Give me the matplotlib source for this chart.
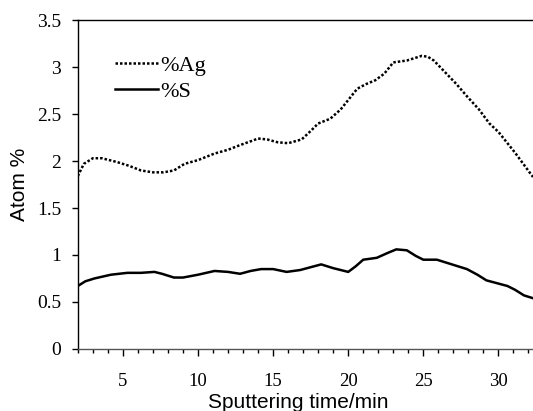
import matplotlib
matplotlib.use("Agg")
import matplotlib.pyplot as plt
from matplotlib.ticker import MultipleLocator

# sputtering time (min)
time_ag = [2.0, 2.4, 3.0, 3.6, 4.6, 5.4, 6.2, 7.0, 7.7, 8.4, 9.1, 10.0, 11.1, 12.0, 12.8, 13.5, 14.0,
           14.6, 15.3, 16.0, 16.9, 17.5, 18.0, 18.8, 19.5, 20.0, 20.6, 21.2, 21.8, 22.4, 23.0, 23.9,
           24.5, 24.9, 25.3, 25.7, 26.6, 27.2, 27.9, 28.7, 29.4, 30.0, 30.6, 31.1, 31.7, 32.3]
pct_ag = [1.84, 1.97, 2.03, 2.03, 1.99, 1.95, 1.90, 1.88, 1.88, 1.90, 1.97, 2.01, 2.08, 2.12, 2.17, 2.21, 2.24,
          2.23, 2.20, 2.19, 2.23, 2.32, 2.40, 2.45, 2.55, 2.65, 2.77, 2.82, 2.86, 2.93, 3.05, 3.07,
          3.10, 3.12, 3.11, 3.07, 2.92, 2.82, 2.69, 2.55, 2.40, 2.31, 2.19, 2.09, 1.96, 1.83]

time_s = [2.0, 2.5, 3.1, 4.2, 5.3, 6.2, 7.1, 7.6, 8.4, 9.0, 10.0, 11.1, 12.0, 12.8, 13.5, 14.2, 15.0,
          15.9, 16.8, 17.5, 18.2, 19.0, 20.0, 20.5, 21.0, 21.9, 22.6, 23.2, 23.9, 24.5, 25.0, 25.9,
          26.9, 27.9, 28.6, 29.2, 29.9, 30.6, 31.1, 31.7, 32.3]
pct_s = [0.67, 0.72, 0.75, 0.79, 0.81, 0.81, 0.82, 0.80, 0.76, 0.76, 0.79, 0.83, 0.82, 0.80, 0.83, 0.85, 0.85,
         0.82, 0.84, 0.87, 0.90, 0.86, 0.82, 0.88, 0.95, 0.97, 1.02, 1.06, 1.05, 0.99, 0.95, 0.95,
         0.90, 0.85, 0.79, 0.73, 0.70, 0.67, 0.63, 0.57, 0.54]

serif = "Liberation Serif"
sans = "Liberation Sans"

fig = plt.figure(figsize=(5.33, 4.11), dpi=100)
ax = fig.add_axes([0.146, 0.151, 0.854, 0.800])

ax.plot(time_ag, pct_ag, color="black", linestyle=(0, (1.0, 0.8)), linewidth=1.8, label="%Ag")
ax.plot(time_s, pct_s, color="black", linestyle="-", linewidth=1.8, label="%S")

ax.set_xlim(2, 32.3)
ax.set_ylim(0, 3.5)
ax.xaxis.set_major_locator(MultipleLocator(5))
ax.xaxis.set_minor_locator(MultipleLocator(1))
ax.set_yticks([0, 0.5, 1, 1.5, 2, 2.5, 3, 3.5])
ax.set_yticklabels(["0", "0.5", "1", "1.5", "2", "2.5", "3", "3.5"])

ax.spines["right"].set_visible(False)
ax.spines["top"].set_linewidth(1.0)
ax.spines["left"].set_linewidth(1.0)
ax.spines["bottom"].set_linewidth(1.0)
ax.spines["bottom"].set_color("#555555")

ax.tick_params(axis="x", which="major", direction="out", length=5, width=1, pad=12)
ax.tick_params(axis="x", which="minor", direction="out", length=3, width=1)
ax.tick_params(axis="y", direction="out", length=4, width=1, pad=8)
for lab in ax.get_xticklabels():
    lab.set_fontfamily(serif)
    lab.set_fontsize(13.5)
for lab in ax.get_yticklabels():
    lab.set_fontfamily(serif)
    lab.set_fontsize(14)

ax.set_xlabel("Sputtering time/min", fontfamily=sans, fontsize=15, labelpad=0)
ax.xaxis.set_label_coords(0.484, -0.135)
ax.set_ylabel("Atom %", fontfamily=sans, fontsize=15, labelpad=6)

ax.legend(loc="upper left", bbox_to_anchor=(0.063, 0.92), frameon=False,
          prop={"family": serif, "size": 16}, handlelength=1.9, handletextpad=0.1,
          labelspacing=0.25, borderaxespad=0)

fig.savefig("out.png", dpi=100)
